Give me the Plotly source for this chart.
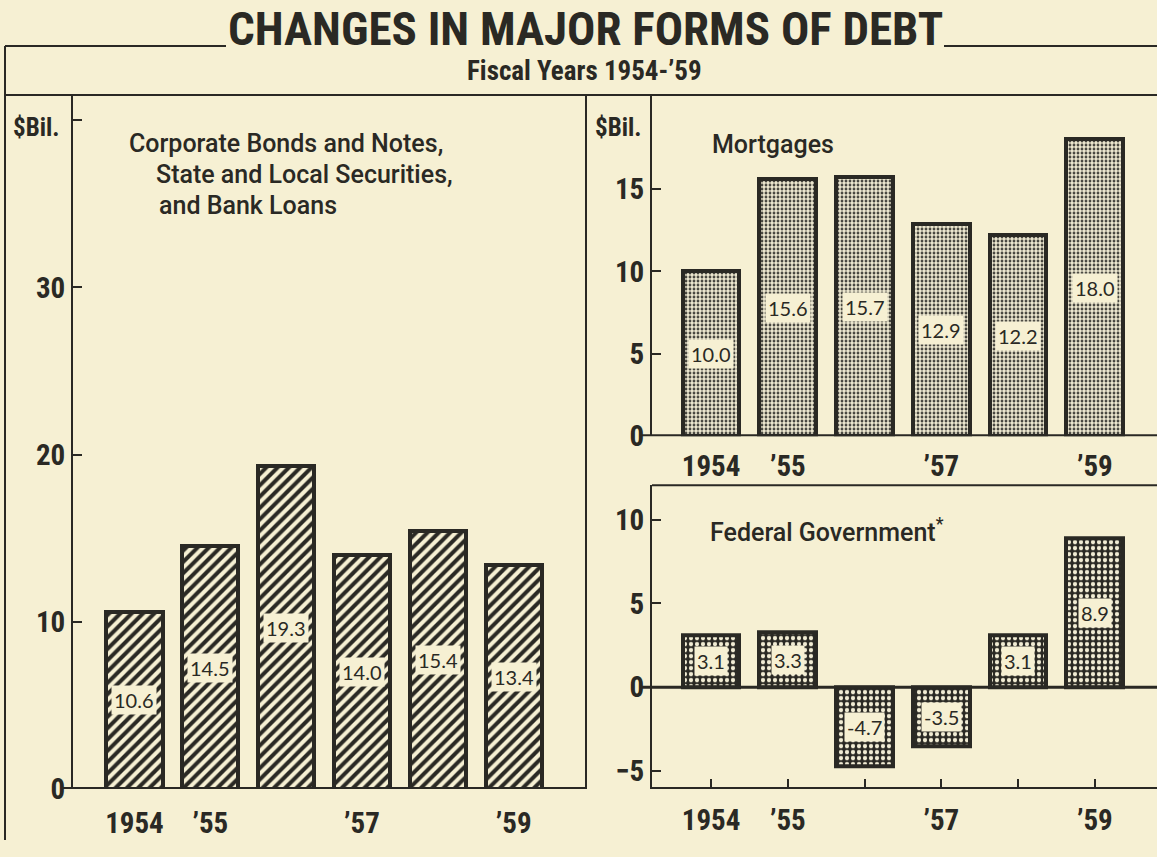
import plotly.graph_objects as go

W, H = 1157, 857

# ---- data -------------------------------------------------------------
years = ["1954", "1955", "1956", "1957", "1958", "1959"]
label_pos = [0, 1, 3, 5]
year_ticks = ["1954", "’55", "’57", "’59"]

corporate_state_bank = [10.6, 14.5, 19.3, 14.0, 15.4, 13.4]
mortgages = [10.0, 15.6, 15.7, 12.9, 12.2, 18.0]
federal = [3.1, 3.3, -4.7, -3.5, 3.1, 8.9]

left_ticks = [0, 10, 20, 30]
left_top_tick = [40]
mort_ticks = [0, 5, 10, 15]
fed_ticks = [-5, 0, 5, 10]

# ---- style ------------------------------------------------------------
INK = "#2a2924"
PAPER = "#f6f0d3"
HEAD = "Roboto Condensed, Roboto, sans-serif"
BODY = "Roboto, sans-serif"
LIGHT = "Lato, Roboto, sans-serif"

idx = list(range(len(years)))


def fx(px):
    return px / W


def fy(py):
    return 1 - py / H


def bars(values, xa, ya, pattern):
    return go.Bar(
        x=idx, y=values, xaxis=xa, yaxis=ya, width=0.74,
        marker=dict(color=PAPER, pattern=pattern,
                    line=dict(color=INK, width=4)),
        hoverinfo="skip", showlegend=False,
    )


fig = go.Figure()
fig.add_trace(bars(corporate_state_bank, "x", "y",
                   dict(shape="/", fgcolor=INK, bgcolor=PAPER,
                        size=8, solidity=0.5, fgopacity=1)))
fig.add_trace(bars(mortgages, "x2", "y2",
                   dict(shape=".", fgcolor="#45443d", bgcolor="#eee9d1",
                        size=4, solidity=0.4, fgopacity=1)))
fig.add_trace(bars(federal, "x3", "y3",
                   dict(shape=".", fgcolor="#f1ecd4", bgcolor=INK,
                        size=6, solidity=0.4, fgopacity=1)))

annotations = []

# value labels, centred in each bar
for vals, xr, yr in [(corporate_state_bank, "x", "y"),
                     (mortgages, "x2", "y2"),
                     (federal, "x3", "y3")]:
    for i, v in zip(idx, vals):
        annotations.append(dict(
            x=i, y=v / 2, xref=xr, yref=yr, text=f"{v:.1f}",
            showarrow=False, bgcolor=PAPER, borderpad=2,
            font=dict(family=LIGHT, size=20, color=INK, weight=400),
        ))


def note(text, x, y, size, xanchor="left", weight=500, family=BODY):
    annotations.append(dict(
        text=text, x=fx(x), y=fy(y), xref="paper", yref="paper",
        xanchor=xanchor, yanchor="middle", showarrow=False,
        font=dict(family=family, size=size, color=INK, weight=weight),
    ))


note("CHANGES IN MAJOR FORMS OF DEBT", 585, 29, 47, "center", 700, HEAD)
note("Fiscal Years 1954-’59", 584, 72, 27, "center", 700, HEAD)
note("$Bil.", 11, 130, 25, "left", 700, HEAD)
note("$Bil.", 593, 130, 25, "left", 700, HEAD)
note("Corporate Bonds and Notes,", 127, 146, 25)
note("State and Local Securities,", 154, 178, 25)
note("and Bank Loans", 157, 210, 25)
note("Mortgages", 710, 147, 25)
note("Federal Government<sup>*</sup>", 708, 541, 25)

line = dict(color=INK, width=2)
shapes = [
    # title rules and outer frame
    dict(type="line", xref="paper", yref="paper",
         x0=fx(5), x1=fx(226), y0=fy(47), y1=fy(47), line=line),
    dict(type="line", xref="paper", yref="paper",
         x0=fx(944), x1=1, y0=fy(47), y1=fy(47), line=line),
    dict(type="line", xref="paper", yref="paper",
         x0=fx(5), x1=fx(5), y0=fy(47), y1=0, line=line),
    dict(type="line", xref="paper", yref="paper",
         x0=fx(5), x1=1, y0=fy(97), y1=fy(97), line=line),
    # federal panel box top
    dict(type="line", xref="paper", yref="paper",
         x0=fx(652), x1=1, y0=fy(495), y1=fy(495), line=line),
    # heavy base lines
    dict(type="line", xref="paper", yref="y", x0=fx(62), x1=fx(586),
         y0=0, y1=0, line=dict(color=INK, width=4)),
    dict(type="line", xref="paper", yref="y2", x0=fx(642), x1=1,
         y0=0, y1=0, line=dict(color=INK, width=4)),
    dict(type="line", xref="paper", yref="y3", x0=fx(642), x1=1,
         y0=0, y1=0, line=dict(color=INK, width=3)),
]

tickfont = dict(family=HEAD, size=29, color=INK, weight=700)

common_y = dict(showgrid=False, zeroline=False, showline=True,
                linecolor=INK, linewidth=2, ticks="inside", ticklen=9,
                tickwidth=2, tickcolor=INK, tickfont=tickfont,
                fixedrange=True)
common_x = dict(showgrid=False, zeroline=False, tickvals=label_pos,
                ticktext=year_ticks, tickfont=tickfont, fixedrange=True)

fig.update_layout(
    width=W, height=H,
    margin=dict(l=0, r=0, t=0, b=0),
    paper_bgcolor=PAPER, plot_bgcolor=PAPER,
    showlegend=False, bargap=0,
    xaxis=dict(common_x, domain=[fx(73), fx(585)], range=[-0.81, 5.94],
               anchor="y", showline=False, ticks="", ticklabelstandoff=14),
    yaxis=dict(common_y, domain=[fy(805), fy(97)], range=[0, 41.5],
               anchor="x", mirror=True, tickvals=left_ticks,
               minor=dict(tickvals=left_top_tick, ticks="inside",
                          ticklen=9, tickwidth=2, tickcolor=INK,
                          showgrid=False)),
    xaxis2=dict(common_x, domain=[fx(652), 1], range=[-0.77, 5.81],
                anchor="y2", showline=False, ticks="", ticklabelstandoff=10),
    yaxis2=dict(common_y, domain=[fy(445), fy(97)], range=[0, 20.7],
                anchor="x2", tickvals=mort_ticks),
    xaxis3=dict(common_x, domain=[fx(652), 1], range=[-0.77, 5.81],
                anchor="y3", showline=True, linecolor=INK, linewidth=2,
                ticks="inside", ticklen=8, tickwidth=2, tickcolor=INK,
                ticklabelstandoff=6,
                minor=dict(tickvals=idx, ticks="inside", ticklen=8,
                           tickwidth=2, tickcolor=INK, showgrid=False)),
    yaxis3=dict(common_y, domain=[fy(803), fy(495)], range=[-5.96, 12.05],
                anchor="x3", tickvals=fed_ticks),
    annotations=annotations,
    shapes=shapes,
)

fig.write_html("out.html")
